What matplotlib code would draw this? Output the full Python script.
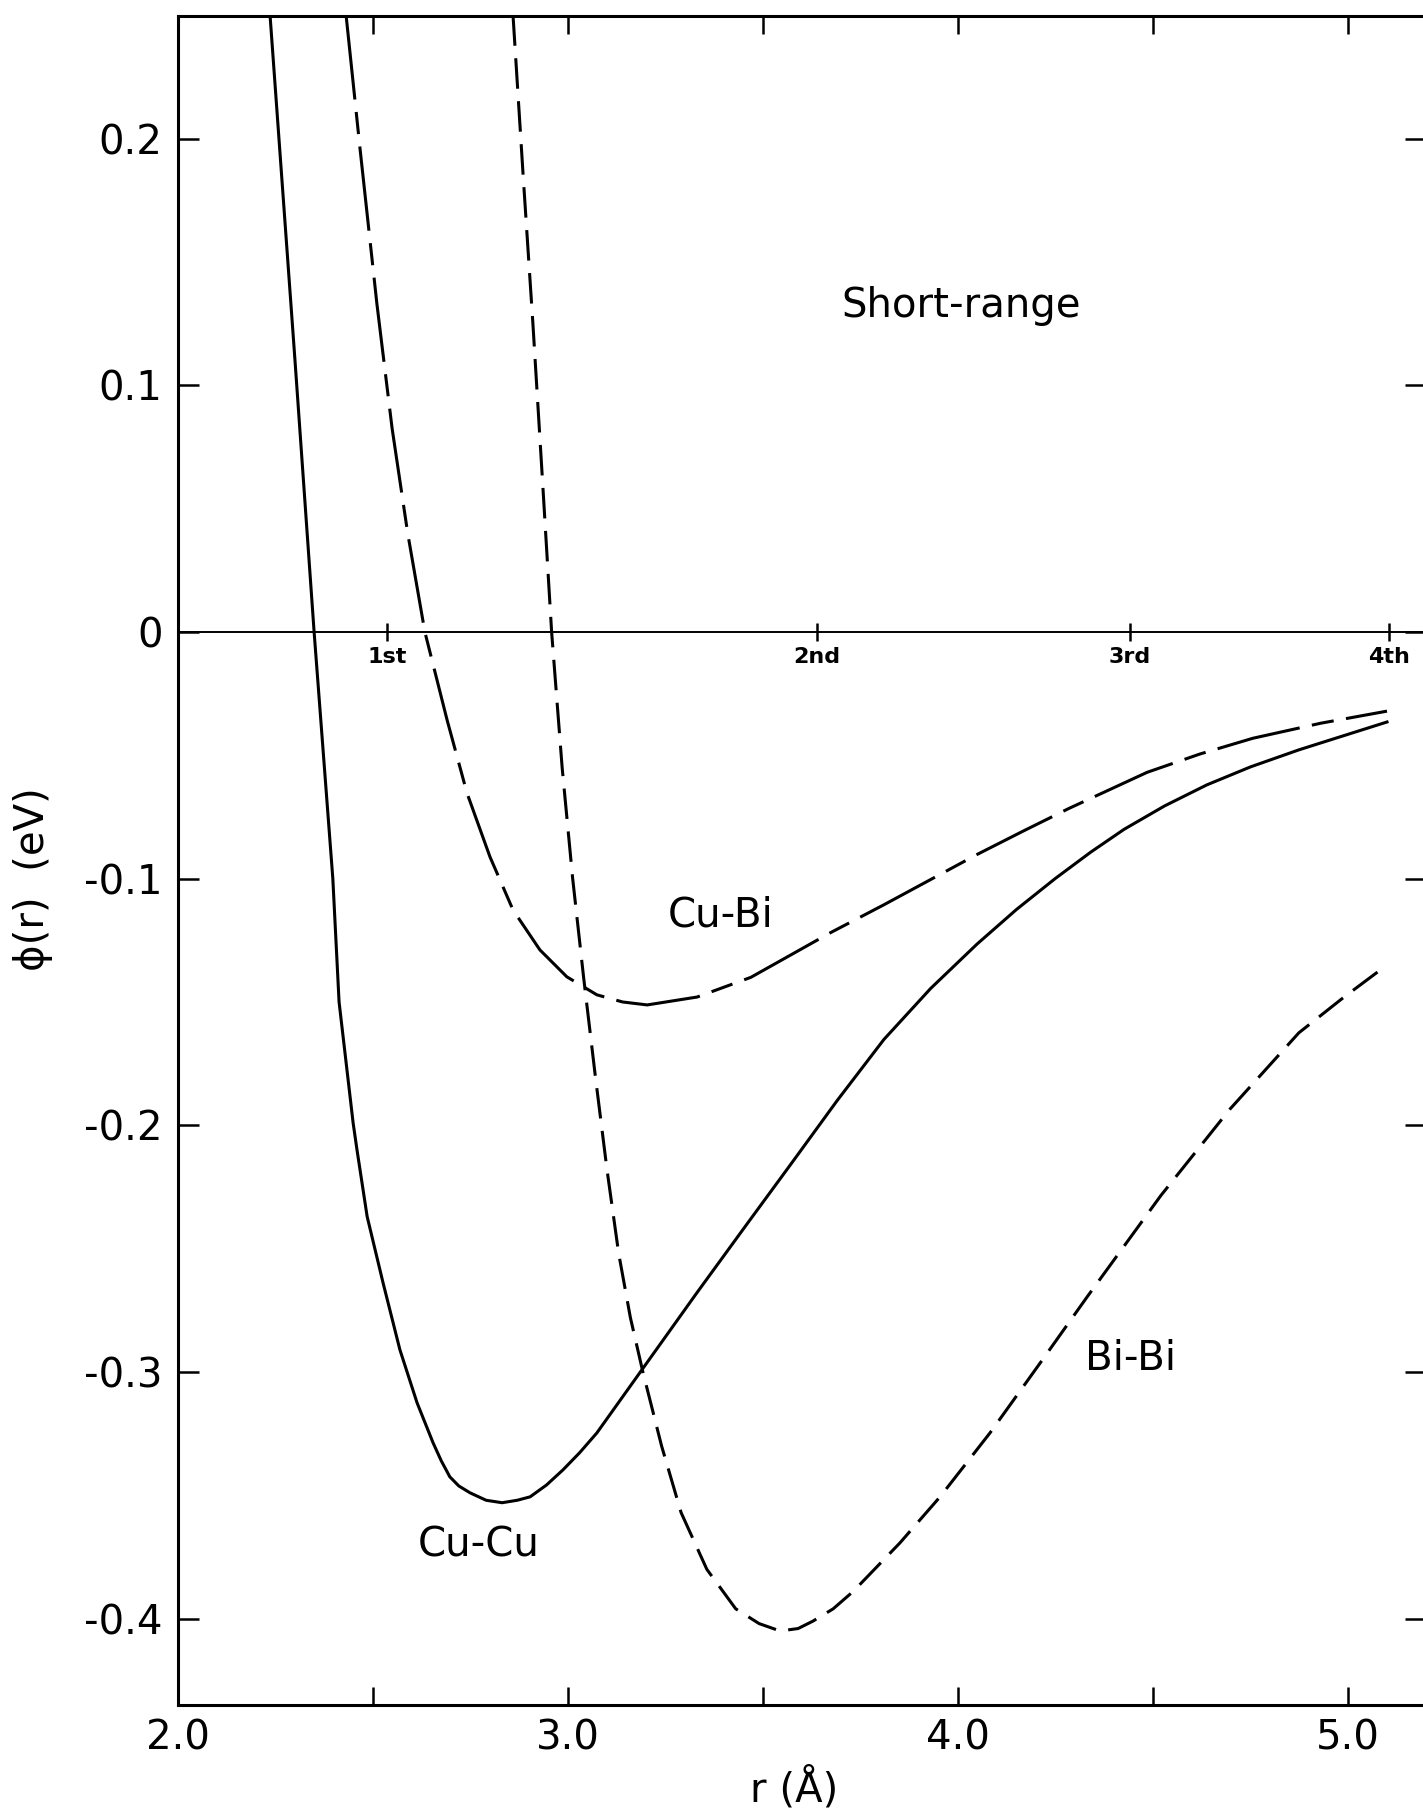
import matplotlib as mpl
mpl.use('Agg')
import matplotlib.pyplot as plt

plt.rcParams['font.family'] = ['DejaVu Sans']
plt.rcParams['axes.unicode_minus'] = False
plt.rcParams['lines.scale_dashes'] = False

# curves ######################################

cucu_r = [2.236, 2.30, 2.349, 2.397, 2.413, 2.449, 2.459, 2.485, 2.526, 2.569, 2.613,
          2.654, 2.675, 2.697, 2.72, 2.749, 2.79, 2.831, 2.87, 2.903, 2.945, 2.987, 3.03,
          3.074, 3.19, 3.33, 3.459, 3.574, 3.69, 3.81, 3.93, 4.049, 4.15, 4.249, 4.34,
          4.426, 4.53, 4.638, 4.75, 4.874, 5.0, 5.10]
cucu_phi = [0.25, 0.11, 0.0, -0.100, -0.150, -0.199, -0.210, -0.237, -0.264, -0.291, -0.3125,
            -0.3287, -0.336, -0.3425, -0.3462, -0.349, -0.352, -0.353, -0.352, -0.3506, -0.3458, -0.3397, -0.3327,
            -0.3247, -0.299, -0.268, -0.240, -0.2152, -0.190, -0.1652, -0.1445, -0.1265, -0.1125, -0.100, -0.0893,
            -0.080, -0.0705, -0.062, -0.0547, -0.0478, -0.0415, -0.0365]

cubi_r = [2.431, 2.466, 2.51, 2.549, 2.589, 2.633, 2.69, 2.741, 2.80, 2.859, 2.928, 2.997,
          3.074, 3.14, 3.203, 3.331, 3.469, 3.672, 3.81, 4.049, 4.17, 4.285, 4.485, 4.62,
          4.756, 4.93, 5.10]
cubi_phi = [0.25, 0.197, 0.133, 0.0825, 0.040, 0.0, -0.0357, -0.0653, -0.0912, -0.1127, -0.1289, -0.1398,
            -0.1471, -0.150, -0.1512, -0.148, -0.140, -0.122, -0.1106, -0.0902, -0.0805, -0.0715, -0.0569, -0.0495,
            -0.0431, -0.0370, -0.0321]

bibi_r = [2.859, 2.885, 2.91, 2.934, 2.958, 2.985, 3.012, 3.04, 3.07, 3.10, 3.13, 3.16,
          3.192, 3.24, 3.29, 3.356, 3.43, 3.49, 3.544, 3.59, 3.628, 3.68, 3.731, 3.851,
          3.954, 4.082, 4.21, 4.33, 4.52, 4.697, 4.874, 4.99, 5.10]
bibi_phi = [0.25, 0.185, 0.125, 0.063, 0.0, -0.055, -0.100, -0.140, -0.180, -0.218, -0.252, -0.278,
            -0.300, -0.330, -0.357, -0.380, -0.396, -0.402, -0.405, -0.404, -0.401, -0.396, -0.389, -0.3693,
            -0.3506, -0.3247, -0.2965, -0.2698, -0.2285, -0.1935, -0.1625, -0.148, -0.135]

shell_r = [2.536, 3.638, 4.44, 5.105]
shell_labels = ['1st', '2nd', '3rd', '4th']

xticks = [2.0, 3.0, 4.0, 5.0]
xticklabels = ['2.0', '3.0', '4.0', '5.0']
xminor = [2.5, 3.5, 4.5]
yticks = [0.2, 0.1, 0.0, -0.1, -0.2, -0.3, -0.4]
yticklabels = ['0.2', '0.1', '0', '-0.1', '-0.2', '-0.3', '-0.4']

# figure #######################################

fig = plt.figure(figsize=(14.23, 18.10), dpi=100)
ax = fig.add_axes([178/1423, 1 - 1705/1810, 1248/1423, 1689/1810])

ax.plot(cucu_r, cucu_phi, color='k', lw=2.2, solid_joinstyle='round')
ax.plot(cubi_r, cubi_phi, color='k', lw=2.2, dashes=(61, 9, 16, 9), dash_capstyle='butt')
ax.plot(bibi_r, bibi_phi, color='k', lw=2.2, dashes=(22, 9), dash_capstyle='butt')

ax.axhline(0, color='k', lw=1.4)
ax.vlines(shell_r, -0.0037, 0.0037, color='k', lw=1.8)
for r, lab in zip(shell_r, shell_labels):
    ax.text(r, -0.0101, lab, ha='center', va='center', fontsize=16, fontweight='bold')

ax.text(3.70, 0.1277, 'Short-range', fontsize=29, ha='left', va='baseline')
ax.text(3.256, -0.1196, 'Cu-Bi', fontsize=29, ha='left', va='baseline')
ax.text(4.326, -0.299, 'Bi-Bi', fontsize=29, ha='left', va='baseline')
ax.text(2.615, -0.375, 'Cu-Cu', fontsize=29, ha='left', va='baseline')

ax.set_xlim(2.0, 5.2)
ax.set_ylim(-0.435, 0.2497)
ax.set_xticks(xticks)
ax.set_xticklabels(xticklabels)
ax.set_xticks(xminor, minor=True)
ax.set_yticks(yticks)
ax.set_yticklabels(yticklabels)

ax.tick_params(axis='x', which='both', direction='in', top=True, bottom=True,
               length=13, width=1.8, labelsize=29, pad=10)
ax.tick_params(axis='y', which='both', direction='in', left=True, right=True,
               length=15, width=1.8, labelsize=29, pad=11)
for s in ax.spines.values():
    s.set_linewidth(2.2)

fig.text(33/1423, 1 - 879/1810, 'ϕ(r)  (eV)', rotation=90, fontsize=29,
         ha='center', va='center')
fig.text(794/1423, 1 - 1801/1810, 'r (Å)', fontsize=29, ha='center', va='baseline')

plt.savefig('out.png', dpi=100)
